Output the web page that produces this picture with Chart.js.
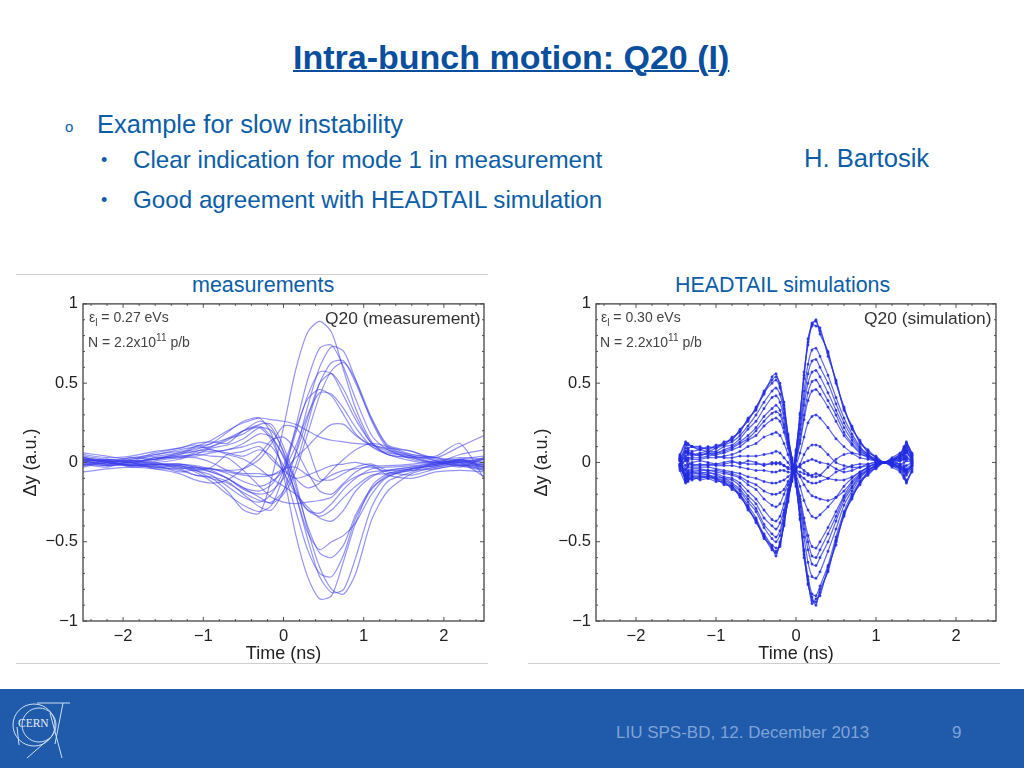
<!DOCTYPE html>
<html>
<head>
<meta charset="utf-8">
<title>Intra-bunch motion: Q20 (I)</title>
<script src="https://cdn.jsdelivr.net/npm/chart.js@4"></script>
<style>
  html, body { margin: 0; padding: 0; background: #fff; }
  body { position: relative; width: 1024px; height: 768px; overflow: hidden; font-family: "Liberation Sans", Arial, sans-serif; }
  .t { position: absolute; white-space: nowrap; color: #0b5ea6; line-height: 30px; height: 30px; }
  .anno { position: absolute; white-space: nowrap; color: #444; font-size: 14px; line-height: 16px; }
  .anno sup { font-size: 10px; line-height: 0; }
  .anno sub { font-size: 10px; line-height: 0; }
  .q { position: absolute; white-space: nowrap; color: #333; font-size: 17.4px; line-height: 20px; }
  .rule { position: absolute; height: 1px; background: #cfcfcf; }
  canvas { position: absolute; filter: blur(0.35px); }
  #footer { position: absolute; left: 0; top: 689px; width: 1024px; height: 79px; background: #1f5aab; }
</style>
</head>
<body>

<div class="t" style="left:293px;top:42px;font-size:34px;font-weight:bold;text-decoration:underline;text-decoration-thickness:2px;color:#0a4f9e">Intra-bunch motion: Q20 (I)</div>
<div class="t" style="left:65px;top:112px;font-size:15px">o</div>
<div class="t" style="left:97px;top:109px;font-size:25.5px">Example for slow instability</div>
<div class="t" style="left:101px;top:145px;font-size:18px">&bull;</div>
<div class="t" style="left:133px;top:145px;font-size:24.2px">Clear indication for mode 1 in measurement</div>
<div class="t" style="left:101px;top:185px;font-size:18px">&bull;</div>
<div class="t" style="left:133px;top:185px;font-size:24.2px">Good agreement with HEADTAIL simulation</div>
<div class="t" style="left:804px;top:143px;font-size:25.6px">H. Bartosik</div>
<div class="t" style="left:192px;top:270px;font-size:21.5px">measurements</div>
<div class="t" style="left:675px;top:270px;font-size:21.4px">HEADTAIL simulations</div>

<div class="rule" style="left:16px;top:274px;width:472px"></div>
<div class="rule" style="left:16px;top:663px;width:472px"></div>
<div class="rule" style="left:528px;top:663px;width:472px"></div>

<canvas id="measChart" width="470" height="381" style="left:20px;top:289px;width:470px;height:381px"></canvas>
<canvas id="simChart" width="470" height="381" style="left:533px;top:289px;width:470px;height:381px"></canvas>

<div class="anno" style="left:89px;top:309px">&epsilon;<sub>l</sub> = 0.27 eVs</div>
<div class="anno" style="left:88px;top:334px">N = 2.2x10<sup>11</sup> p/b</div>
<div class="q" style="left:325px;top:308px">Q20 (measurement)</div>
<div class="anno" style="left:601px;top:309px">&epsilon;<sub>l</sub> = 0.30 eVs</div>
<div class="anno" style="left:600px;top:334px">N = 2.2x10<sup>11</sup> p/b</div>
<div class="q" style="left:864px;top:308px">Q20 (simulation)</div>

<div id="footer"></div>
<svg style="position:absolute;left:0;top:689px" width="80" height="79" fill="none" stroke="#cfe0f5" stroke-width="1">
  <circle cx="34" cy="36" r="21"></circle>
  <circle cx="39" cy="36" r="17"></circle>
  <path d="M37 14 H70 M63 14 L55 55 M50 24 L62 69 M50 49 L27 69 M17 38 L19 56"></path>
  <text x="18" y="38" font-family="Liberation Serif" font-size="11.5" fill="#e6eef9" stroke="none">CERN</text>
</svg>
<div class="t" style="left:616px;top:718px;font-size:17px;color:#7fa3d6">LIU SPS-BD, 12. December 2013</div>
<div class="t" style="left:952px;top:718px;font-size:17px;color:#7fa3d6">9</div>

<script>
// tick labels for both panels
const xTicks = [-2, -1, 0, 1, 2];
const yTicks = [-1, -0.5, 0, 0.5, 1];
const xMinor = [-2.4, -2.2, -1.8, -1.6, -1.4, -1.2, -0.8, -0.6, -0.4, -0.2, 0.2, 0.4, 0.6, 0.8, 1.2, 1.4, 1.6, 1.8, 2.2, 2.4];
const yMinor = [-0.9, -0.8, -0.7, -0.6, -0.4, -0.3, -0.2, -0.1, 0.1, 0.2, 0.3, 0.4, 0.6, 0.7, 0.8, 0.9];

const measT = [-2.5, -2.2, -1.9, -1.6, -1.3, -1.1, -0.9, -0.7, -0.5, -0.3, -0.15, 0, 0.15, 0.3, 0.45, 0.6, 0.75, 0.9, 1.1, 1.3, 1.6, 1.9, 2.2, 2.5];
const measRuns = [
  [-0.02, 0.00, -0.02, -0.03, -0.05, -0.08, -0.10, -0.18, -0.30, -0.32, -0.10, 0.22, 0.58, 0.82, 0.89, 0.82, 0.58, 0.34, 0.13, 0.05, 0.03, -0.01, 0.00, -0.04],
  [0.03, 0.01, -0.02, -0.01, -0.03, -0.06, -0.12, -0.20, -0.27, -0.31, -0.27, -0.08, 0.22, 0.52, 0.72, 0.74, 0.60, 0.40, 0.17, 0.08, 0.04, 0.02, -0.01, -0.03],
  [0.02, -0.01, 0.00, -0.04, -0.04, -0.08, -0.09, -0.12, -0.20, -0.28, -0.30, -0.18, 0.06, 0.35, 0.60, 0.73, 0.70, 0.52, 0.26, 0.09, 0.05, 0.03, 0.01, -0.02],
  [-0.02, 0.01, -0.03, -0.02, -0.06, -0.05, -0.10, -0.13, -0.19, -0.24, -0.25, -0.18, -0.02, 0.24, 0.50, 0.63, 0.64, 0.50, 0.27, 0.10, 0.04, 0.00, 0.02, -0.03],
  [0.03, 0.00, -0.02, -0.01, -0.02, -0.04, -0.06, -0.10, -0.16, -0.22, -0.26, -0.20, -0.06, 0.18, 0.42, 0.58, 0.63, 0.52, 0.28, 0.11, 0.07, 0.01, -0.02, 0.02],
  [0.01, -0.02, -0.01, -0.03, -0.02, -0.05, -0.08, -0.15, -0.22, -0.25, -0.20, -0.05, 0.18, 0.42, 0.57, 0.56, 0.42, 0.27, 0.12, 0.05, 0.03, 0.03, -0.02, -0.05],
  [-0.03, 0.00, -0.02, 0.00, -0.04, -0.03, -0.06, -0.10, -0.17, -0.20, -0.18, -0.10, 0.05, 0.28, 0.50, 0.56, 0.46, 0.30, 0.12, 0.08, 0.02, 0.00, 0.01, -0.01],
  [0.02, 0.01, 0.00, -0.02, -0.01, -0.03, -0.05, -0.10, -0.16, -0.18, -0.14, -0.02, 0.20, 0.40, 0.46, 0.42, 0.30, 0.18, 0.10, 0.06, 0.04, 0.01, -0.03, 0.03],
  [-0.01, -0.03, 0.01, -0.01, -0.02, -0.04, -0.04, -0.07, -0.12, -0.15, -0.12, -0.05, 0.10, 0.30, 0.44, 0.43, 0.34, 0.22, 0.10, 0.05, 0.01, -0.01, 0.02, 0.00],
  [0.00, -0.01, -0.02, -0.01, -0.01, -0.02, -0.04, -0.06, -0.08, -0.09, -0.08, -0.05, 0.03, 0.10, 0.18, 0.24, 0.24, 0.17, 0.11, 0.09, 0.07, 0.03, 0.10, 0.17],
  [0.02, 0.01, 0.03, 0.05, 0.08, 0.10, 0.14, 0.20, 0.25, 0.28, 0.27, 0.26, 0.24, 0.20, 0.16, 0.14, 0.13, 0.12, 0.11, 0.07, 0.03, 0.00, 0.05, 0.08],
  [0.00, -0.02, 0.00, -0.01, -0.01, -0.03, -0.04, -0.05, -0.04, 0.02, 0.12, 0.23, 0.22, 0.10, -0.10, -0.11, -0.07, -0.03, -0.01, -0.05, -0.04, -0.01, 0.02, -0.02],
  [0.03, 0.00, 0.02, 0.04, 0.06, 0.10, 0.12, 0.19, 0.26, 0.28, 0.18, -0.08, -0.45, -0.72, -0.86, -0.84, -0.62, -0.38, -0.15, -0.07, -0.04, -0.02, 0.02, 0.04],
  [0.04, 0.02, 0.01, 0.05, 0.07, 0.08, 0.12, 0.15, 0.18, 0.24, 0.24, 0.10, -0.12, -0.42, -0.66, -0.80, -0.83, -0.70, -0.36, -0.18, -0.07, -0.03, 0.00, 0.02],
  [0.01, -0.01, 0.03, 0.02, 0.06, 0.07, 0.10, 0.14, 0.20, 0.26, 0.22, 0.06, -0.20, -0.48, -0.72, -0.82, -0.80, -0.60, -0.28, -0.12, -0.06, 0.00, -0.02, -0.01],
  [0.02, 0.00, -0.01, 0.03, 0.05, 0.09, 0.10, 0.15, 0.20, 0.22, 0.14, -0.05, -0.30, -0.55, -0.70, -0.72, -0.58, -0.35, -0.17, -0.08, -0.05, -0.04, -0.01, 0.03],
  [0.03, 0.01, 0.01, 0.02, 0.04, 0.05, 0.09, 0.11, 0.15, 0.22, 0.20, 0.07, -0.15, -0.40, -0.57, -0.60, -0.52, -0.33, -0.16, -0.09, -0.04, -0.01, 0.01, -0.03],
  [0.00, 0.02, 0.00, 0.03, 0.03, 0.06, 0.07, 0.08, 0.12, 0.18, 0.16, 0.03, -0.20, -0.44, -0.55, -0.50, -0.46, -0.38, -0.20, -0.09, -0.05, -0.03, -0.01, -0.05],
  [-0.01, 0.01, 0.00, 0.02, 0.04, 0.04, 0.06, 0.08, 0.10, 0.13, 0.10, -0.02, -0.18, -0.30, -0.34, -0.30, -0.22, -0.15, -0.08, -0.07, -0.04, -0.02, 0.01, 0.00],
  [0.01, -0.01, 0.01, 0.00, 0.02, 0.05, 0.04, 0.03, -0.05, -0.15, -0.22, -0.25, -0.26, -0.25, -0.24, -0.22, -0.14, -0.09, -0.06, -0.05, -0.03, -0.02, 0.00, -0.03],
  [0.02, 0.00, -0.01, 0.01, 0.03, 0.03, 0.00, -0.05, -0.07, -0.07, -0.08, -0.04, -0.03, -0.08, -0.12, -0.08, -0.05, -0.04, -0.03, -0.06, -0.08, -0.04, -0.02, -0.04],
  [0.01, 0.02, 0.01, 0.02, 0.05, 0.07, 0.08, 0.05, 0.02, -0.04, -0.10, -0.15, -0.20, -0.28, -0.35, -0.37, -0.30, -0.18, -0.09, -0.05, -0.03, 0.00, 0.01, 0.02],
  [-0.01, -0.02, -0.01, -0.03, -0.03, -0.05, -0.03, 0.05, 0.07, 0.10, 0.02, -0.05, -0.10, -0.08, -0.05, -0.02, -0.01, 0.00, -0.02, -0.02, -0.01, 0.01, 0.03, 0.02],
  [0.06, 0.04, 0.02, 0.06, 0.09, 0.11, 0.08, 0.06, 0.04, 0.08, 0.04, -0.06, -0.20, -0.30, -0.32, -0.26, -0.17, -0.10, -0.04, -0.03, -0.02, -0.01, 0.00, -0.09],
  [-0.06, -0.04, -0.03, -0.04, -0.07, -0.11, -0.13, -0.11, -0.04, 0.05, 0.14, 0.16, 0.08, -0.06, -0.18, -0.20, -0.13, -0.06, -0.02, -0.08, -0.10, -0.06, -0.05, -0.06],
  [0.05, 0.03, 0.04, 0.07, 0.09, 0.12, 0.13, 0.12, 0.20, 0.23, 0.16, 0.04, -0.10, -0.16, -0.13, -0.05, 0.02, 0.08, 0.12, 0.10, 0.05, 0.04, 0.12, -0.10]
];

// simulation: turns
const simT = [-1.45, -1.38, -1.35, -1.3, -1.2, -1.1, -1.0, -0.9, -0.8, -0.7, -0.6, -0.5, -0.4, -0.3, -0.25, -0.2, -0.15, -0.1, -0.05, 0, 0.05, 0.1, 0.15, 0.2, 0.25, 0.3, 0.4, 0.5, 0.6, 0.7, 0.8, 0.9, 1.0, 1.1, 1.2, 1.3, 1.35, 1.38, 1.45];
const simRuns = [
  [0.05, 0.13, 0.12, 0.10, 0.09, 0.09, 0.10, 0.12, 0.15, 0.20, 0.27, 0.34, 0.45, 0.52, 0.54, 0.50, 0.36, 0.18, 0.02, -0.14, -0.35, -0.58, -0.76, -0.87, -0.88, -0.82, -0.68, -0.50, -0.33, -0.22, -0.13, -0.07, -0.03, 0.00, -0.02, -0.05, -0.09, -0.13, -0.05],
  [0.02, 0.09, 0.08, 0.07, 0.08, 0.07, 0.09, 0.11, 0.13, 0.17, 0.23, 0.30, 0.38, 0.45, 0.47, 0.43, 0.31, 0.15, 0.01, -0.13, -0.33, -0.55, -0.72, -0.83, -0.84, -0.78, -0.65, -0.47, -0.31, -0.20, -0.12, -0.06, -0.03, 0.00, -0.01, -0.04, -0.06, -0.08, -0.03],
  [-0.03, 0.06, 0.07, 0.05, 0.06, 0.07, 0.07, 0.10, 0.11, 0.15, 0.21, 0.26, 0.34, 0.41, 0.42, 0.38, 0.28, 0.13, 0.00, -0.12, -0.28, -0.47, -0.63, -0.72, -0.73, -0.69, -0.56, -0.42, -0.27, -0.18, -0.10, -0.05, -0.02, 0.00, 0.01, 0.03, 0.05, 0.07, 0.02],
  [0.01, 0.04, 0.05, 0.04, 0.05, 0.05, 0.06, 0.08, 0.10, 0.13, 0.17, 0.22, 0.29, 0.34, 0.36, 0.33, 0.24, 0.12, -0.01, -0.11, -0.25, -0.42, -0.55, -0.64, -0.65, -0.60, -0.50, -0.37, -0.24, -0.16, -0.09, -0.05, -0.02, 0.00, 0.01, 0.04, 0.07, 0.10, 0.04],
  [-0.02, 0.02, 0.03, 0.03, 0.03, 0.04, 0.05, 0.06, 0.08, 0.10, 0.14, 0.17, 0.23, 0.27, 0.28, 0.26, 0.19, 0.09, -0.02, -0.10, -0.21, -0.35, -0.46, -0.53, -0.54, -0.50, -0.41, -0.31, -0.21, -0.13, -0.08, -0.04, -0.02, 0.00, 0.02, 0.05, 0.09, 0.12, 0.05],
  [0.03, -0.02, 0.02, 0.02, 0.02, 0.03, 0.03, 0.04, 0.05, 0.07, 0.10, 0.12, 0.16, 0.18, 0.19, 0.17, 0.12, 0.05, -0.03, -0.08, -0.15, -0.24, -0.30, -0.34, -0.35, -0.33, -0.28, -0.22, -0.15, -0.10, -0.06, -0.03, -0.01, 0.00, -0.02, -0.03, -0.05, -0.06, -0.01],
  [-0.01, 0.03, -0.01, 0.00, 0.01, 0.00, -0.01, -0.01, 0.00, 0.00, -0.01, -0.01, -0.01, -0.01, 0.00, -0.01, -0.02, -0.04, -0.05, -0.06, -0.09, -0.14, -0.18, -0.21, -0.22, -0.23, -0.24, -0.22, -0.18, -0.12, -0.07, -0.03, -0.01, 0.00, 0.00, 0.02, 0.03, 0.04, 0.00],
  [0.02, -0.04, -0.02, -0.01, -0.02, -0.01, -0.02, -0.02, -0.02, -0.03, -0.04, -0.05, -0.05, -0.06, -0.06, -0.05, -0.05, -0.06, -0.06, -0.05, -0.06, -0.07, -0.08, -0.08, -0.07, -0.08, -0.10, -0.11, -0.11, -0.09, -0.06, -0.03, -0.01, 0.00, 0.01, 0.01, 0.02, 0.02, 0.01],
  [-0.02, -0.05, -0.03, -0.03, -0.03, -0.03, -0.04, -0.05, -0.06, -0.07, -0.09, -0.10, -0.12, -0.13, -0.13, -0.12, -0.11, -0.09, -0.07, -0.04, -0.01, 0.05, 0.09, 0.11, 0.11, 0.10, 0.05, 0.00, -0.02, -0.03, -0.03, -0.02, -0.01, 0.00, -0.01, -0.02, -0.03, -0.04, -0.01],
  [0.03, -0.07, -0.05, -0.04, -0.04, -0.05, -0.05, -0.06, -0.07, -0.09, -0.12, -0.14, -0.18, -0.20, -0.20, -0.19, -0.17, -0.12, -0.08, -0.03, -0.03, -0.05, -0.07, -0.09, -0.09, -0.08, -0.03, 0.02, 0.05, 0.06, 0.05, 0.04, 0.01, 0.00, 0.00, -0.01, -0.02, -0.02, 0.00],
  [0.01, -0.08, -0.06, -0.05, -0.05, -0.05, -0.06, -0.07, -0.08, -0.10, -0.14, -0.17, -0.23, -0.27, -0.28, -0.26, -0.20, -0.14, -0.09, -0.02, 0.06, 0.16, 0.25, 0.29, 0.30, 0.28, 0.22, 0.15, 0.10, 0.06, 0.03, 0.02, 0.01, 0.00, -0.01, -0.03, -0.05, -0.07, -0.02],
  [-0.04, -0.09, -0.07, -0.06, -0.06, -0.07, -0.07, -0.09, -0.10, -0.13, -0.18, -0.23, -0.30, -0.36, -0.37, -0.34, -0.26, -0.17, -0.08, 0.01, 0.12, 0.27, 0.39, 0.45, 0.46, 0.43, 0.35, 0.26, 0.17, 0.11, 0.06, 0.03, 0.01, 0.00, 0.01, 0.02, 0.04, 0.06, 0.02],
  [0.02, -0.10, -0.08, -0.07, -0.07, -0.08, -0.09, -0.10, -0.13, -0.17, -0.23, -0.29, -0.39, -0.45, -0.47, -0.43, -0.32, -0.20, -0.09, 0.03, 0.18, 0.36, 0.50, 0.57, 0.58, 0.54, 0.44, 0.33, 0.22, 0.14, 0.08, 0.04, 0.01, 0.00, 0.02, 0.03, 0.06, 0.08, 0.03],
  [-0.01, -0.11, -0.09, -0.08, -0.08, -0.08, -0.10, -0.11, -0.14, -0.18, -0.25, -0.31, -0.41, -0.48, -0.50, -0.46, -0.34, -0.21, -0.09, 0.04, 0.21, 0.40, 0.56, 0.64, 0.65, 0.60, 0.50, 0.37, 0.25, 0.16, 0.09, 0.05, 0.02, 0.00, -0.01, -0.02, -0.04, -0.05, -0.02],
  [0.03, -0.12, -0.10, -0.09, -0.09, -0.09, -0.10, -0.12, -0.15, -0.20, -0.27, -0.35, -0.46, -0.54, -0.56, -0.51, -0.38, -0.23, -0.10, 0.05, 0.24, 0.45, 0.62, 0.71, 0.72, 0.67, 0.55, 0.41, 0.28, 0.18, 0.10, 0.05, 0.02, 0.00, 0.01, 0.04, 0.06, 0.09, 0.04],
  [-0.05, -0.13, -0.11, -0.10, -0.10, -0.09, -0.11, -0.13, -0.16, -0.21, -0.29, -0.37, -0.47, -0.55, -0.57, -0.52, -0.39, -0.24, -0.11, 0.07, 0.30, 0.55, 0.76, 0.88, 0.89, 0.83, 0.69, 0.51, 0.34, 0.22, 0.13, 0.07, 0.03, 0.00, 0.02, 0.05, 0.09, 0.13, 0.05],
  [0.04, 0.12, 0.11, 0.10, 0.08, 0.10, 0.09, 0.13, 0.14, 0.21, 0.26, 0.35, 0.43, 0.54, 0.56, 0.48, 0.38, 0.16, 0.03, -0.15, -0.33, -0.60, -0.74, -0.89, -0.86, -0.84, -0.66, -0.52, -0.32, -0.23, -0.12, -0.08, -0.03, 0.00, -0.03, -0.06, -0.10, -0.12, -0.04],
  [-0.02, 0.11, 0.09, 0.10, 0.10, 0.08, 0.11, 0.11, 0.16, 0.19, 0.28, 0.33, 0.44, 0.50, 0.52, 0.47, 0.34, 0.17, 0.01, -0.13, -0.36, -0.56, -0.77, -0.85, -0.90, -0.80, -0.69, -0.49, -0.34, -0.21, -0.14, -0.06, -0.04, 0.00, -0.02, -0.04, -0.08, -0.11, -0.06],
  [0.04, -0.12, -0.12, -0.09, -0.11, -0.10, -0.10, -0.14, -0.15, -0.22, -0.28, -0.38, -0.45, -0.53, -0.59, -0.50, -0.40, -0.22, -0.12, 0.06, 0.31, 0.53, 0.78, 0.86, 0.90, 0.81, 0.70, 0.50, 0.35, 0.21, 0.14, 0.06, 0.04, 0.00, 0.03, 0.06, 0.08, 0.12, 0.06],
  [-0.03, -0.10, -0.10, -0.11, -0.09, -0.10, -0.12, -0.12, -0.17, -0.20, -0.30, -0.36, -0.48, -0.52, -0.54, -0.53, -0.37, -0.25, -0.10, 0.08, 0.28, 0.57, 0.74, 0.87, 0.86, 0.85, 0.67, 0.52, 0.33, 0.23, 0.12, 0.08, 0.03, 0.00, 0.01, 0.05, 0.10, 0.11, 0.03],
  [0.01, 0.07, 0.06, 0.06, 0.04, 0.06, 0.04, 0.03, 0.03, 0.04, 0.04, 0.04, 0.05, 0.06, 0.07, 0.06, 0.03, 0.00, -0.04, -0.06, -0.08, -0.10, -0.12, -0.13, -0.13, -0.12, -0.10, -0.06, -0.04, -0.02, -0.01, -0.01, 0.00, 0.00, -0.01, 0.01, 0.02, 0.03, 0.01],
  [-0.02, 0.01, 0.01, -0.02, -0.01, -0.02, -0.01, 0.00, 0.01, -0.01, 0.01, 0.00, -0.02, 0.00, -0.01, 0.00, -0.02, -0.03, -0.04, -0.04, -0.02, 0.00, 0.01, 0.02, 0.01, 0.00, -0.01, -0.04, -0.06, -0.05, -0.03, -0.01, 0.00, 0.00, 0.00, -0.01, 0.00, 0.01, 0.00],
  [0.02, -0.09, -0.08, -0.06, -0.07, -0.06, -0.08, -0.10, -0.11, -0.15, -0.21, -0.26, -0.35, -0.40, -0.42, -0.38, -0.30, -0.18, -0.07, 0.02, 0.14, 0.30, 0.44, 0.51, 0.52, 0.48, 0.39, 0.30, 0.19, 0.12, 0.07, 0.04, 0.01, 0.00, 0.01, 0.03, 0.05, 0.07, 0.01],
  [-0.01, 0.07, 0.06, 0.05, 0.05, 0.06, 0.06, 0.07, 0.09, 0.12, 0.15, 0.20, 0.26, 0.31, 0.32, 0.30, 0.22, 0.11, -0.01, -0.11, -0.23, -0.38, -0.50, -0.59, -0.60, -0.55, -0.45, -0.34, -0.22, -0.15, -0.08, -0.05, -0.02, 0.00, -0.01, -0.03, -0.04, -0.05, -0.02]
];

function minusLabel(v) {
    return v < 0 ? "\u2212" + Math.abs(v) : String(v);
}

// box and inward matlab style ticks, drawn on top of the traces
const boxTicks = {
    id: "boxTicks",
    afterDatasetsDraw(chart) {
        const { ctx, chartArea: a, scales: { x, y } } = chart;
        ctx.save();
        ctx.strokeStyle = "#555";
        ctx.lineWidth = 1;
        function tickX(v, len) {
            const p = x.getPixelForValue(v);
            ctx.beginPath();
            ctx.moveTo(p, a.bottom); ctx.lineTo(p, a.bottom - len);
            ctx.moveTo(p, a.top); ctx.lineTo(p, a.top + len);
            ctx.stroke();
        }
        function tickY(v, len) {
            const p = y.getPixelForValue(v);
            ctx.beginPath();
            ctx.moveTo(a.left, p); ctx.lineTo(a.left + len, p);
            ctx.moveTo(a.right, p); ctx.lineTo(a.right - len, p);
            ctx.stroke();
        }
        xTicks.forEach(v => tickX(v, 4));
        xMinor.forEach(v => tickX(v, 2));
        yTicks.forEach(v => tickY(v, 4));
        yMinor.forEach(v => tickY(v, 2));
        ctx.strokeStyle = "#444";
        ctx.lineWidth = 1.3;
        ctx.strokeRect(a.left, a.top, a.right - a.left, a.bottom - a.top);
        ctx.restore();
    }
};

function drawPanel(id, times, runs, lineColor, lineWidth, pointRadius, rightPad, titlePad) {
    new Chart(document.getElementById(id), {
        type: "scatter",
        data: {
            datasets: runs.map(run => ({
                data: run.map((v, i) => ({ x: times[i], y: v })),
                showLine: true,
                borderColor: lineColor,
                backgroundColor: lineColor,
                borderWidth: lineWidth,
                pointRadius: pointRadius,
                tension: 0.25
            }))
        },
        options: {
            responsive: false,
            animation: false,
            layout: { padding: { top: 3, right: rightPad } },
            plugins: { legend: { display: false }, tooltip: { enabled: false } },
            scales: {
                x: {
                    type: "linear", min: -2.5, max: 2.5,
                    grid: { display: false, drawTicks: false },
                    border: { display: false },
                    afterBuildTicks: s => { s.ticks = xTicks.map(v => ({ value: v })); },
                    afterFit: s => { s.height = 49; },
                    ticks: { autoSkip: false, maxRotation: 0, padding: 6, color: "#222", font: { family: "Liberation Sans", size: 16.5 }, callback: minusLabel },
                    title: { display: true, text: "Time (ns)", color: "#222", padding: { top: 0, bottom: 5 }, font: { family: "Liberation Sans", size: 18 } }
                },
                y: {
                    type: "linear", min: -1, max: 1,
                    grid: { display: false, drawTicks: false },
                    border: { display: false },
                    afterBuildTicks: s => { s.ticks = yTicks.map(v => ({ value: v })); },
                    afterFit: s => { s.width = 63; },
                    ticks: { autoSkip: false, padding: 5, color: "#222", font: { family: "Liberation Sans", size: 16.5 }, callback: minusLabel },
                    title: { display: true, text: "\u0394y (a.u.)", color: "#222", padding: { top: titlePad, bottom: 0 }, font: { family: "Liberation Sans", size: 18 } }
                }
            }
        },
        plugins: [boxTicks]
    });
}

drawPanel("measChart", measT, measRuns, "rgba(62,62,235,0.55)", 1.2, 0, 6, 0);
drawPanel("simChart", simT, simRuns, "rgba(35,45,225,0.72)", 1.2, 0.9, 7, -2);
</script>
</body>
</html>
